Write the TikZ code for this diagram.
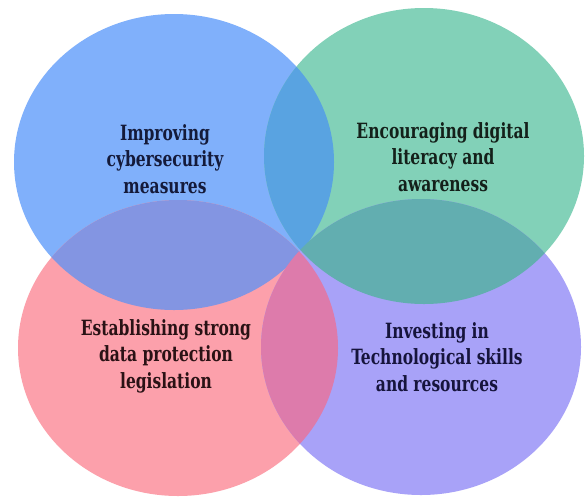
\documentclass[tikz,border=0pt]{standalone}
\usepackage{fontspec}
\newfontfamily\labelfont[FakeStretch=0.82]{DejaVu Serif Condensed Bold}
\definecolor{cyberblue}{HTML}{80B0FB}
\definecolor{literacygreen}{HTML}{82D1B8}
\definecolor{lawpink}{HTML}{FCA0AB}
\definecolor{skillviolet}{HTML}{A8A2F8}
\definecolor{lensBG}{HTML}{59A3E1}
\definecolor{lensBR}{HTML}{8395E2}
\definecolor{lensGV}{HTML}{62AEB0}
\definecolor{lensRV}{HTML}{DD7BAB}
\definecolor{inkblue}{HTML}{141A3A}
\definecolor{inkgreen}{HTML}{14201A}
\definecolor{inkred}{HTML}{2A1215}
\definecolor{inkviolet}{HTML}{16143C}
\begin{document}
\begin{tikzpicture}[x=1pt,y=-1pt,
  blob/.style={x radius=160pt, y radius=148pt},
  label/.style={font=\labelfont\fontsize{21}{26.5}\selectfont, align=center, inner sep=0pt}]
\useasboundingbox (0,0) rectangle (585,496);
\fill[white] (0,0) rectangle (585,496);
% centres of the four ellipses
\coordinate (cb) at (174,162);
\coordinate (cg) at (424,156);
\coordinate (cr) at (178,348);
\coordinate (cv) at (421,347);
% the four ellipses
\fill[cyberblue] (cb) ellipse [blob];
\fill[literacygreen] (cg) ellipse [blob];
\fill[lawpink] (cr) ellipse [blob];
\fill[skillviolet] (cv) ellipse [blob];
% overlapping lenses
\begin{scope}
  \clip (cb) ellipse [blob];
  \fill[lensBG] (cg) ellipse [blob];
  \fill[lensBR] (cr) ellipse [blob];
\end{scope}
\begin{scope}
  \clip (cv) ellipse [blob];
  \fill[lensGV] (cg) ellipse [blob];
  \fill[lensRV] (cr) ellipse [blob];
\end{scope}
% labels
\node[label, text=inkblue] (tb) at (165,159) {Improving\\cybersecurity\\measures};
\node[label, text=inkgreen] (tg) at (443,157) {Encouraging digital\\literacy and\\awareness};
\node[label, text=inkred] (tr) at (166,356) {Establishing strong\\data protection\\legislation};
\node[label, text=inkviolet] (tv) at (437,357) {Investing in\\Technological skills\\and resources};
\end{tikzpicture}
\end{document}
